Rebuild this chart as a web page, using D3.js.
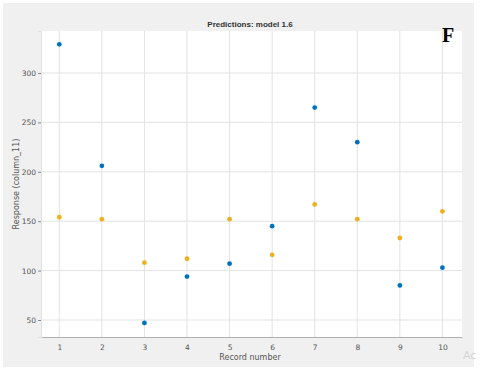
<!DOCTYPE html>
<html>
<head>
<meta charset="utf-8">
<script src="https://cdn.jsdelivr.net/npm/d3@7"></script>
<style>
  body { margin: 0; background: #fff; }
  svg { display: block; }
</style>
</head>
<body>
<svg id="chart" width="480" height="373"></svg>
<script>
// record numbers 1..10
var records = [1, 2, 3, 4, 5, 6, 7, 8, 9, 10]
// true response (blue)
var trueResp = [329, 206, 47, 94, 107, 145, 265, 230, 85, 103]
// predicted response (yellow)
var predResp = [154, 152, 108, 112, 152, 116, 167, 152, 133, 160]
var yTicks = [50, 100, 150, 200, 250, 300]

var svg = d3.select("#chart")

// grey figure panel
svg.append("rect")
    .attr("x", 3).attr("y", 3)
    .attr("width", 471).attr("height", 364)
    .attr("fill", "#f0f0f0")

// plot box (note: "top" is taken by window.top)
var pLeft = 41, pRight = 462, pTop = 31, pBottom = 337

var x = d3.scaleLinear().domain([0.57, 10.46]).range([pLeft, pRight])
var y = d3.scaleLinear().domain([32.8, 342.5]).range([pBottom, pTop])

svg.append("rect")
    .attr("x", pLeft).attr("y", pTop)
    .attr("width", pRight - pLeft).attr("height", pBottom - pTop)
    .attr("fill", "#fff")

// grid
svg.append("g").selectAll("line").data(records).join("line")
    .attr("x1", d => x(d)).attr("x2", d => x(d))
    .attr("y1", pTop).attr("y2", pBottom)
    .attr("stroke", "#e3e3e3").attr("stroke-width", 1)

svg.append("g").selectAll("line").data(yTicks).join("line")
    .attr("x1", pLeft).attr("x2", pRight)
    .attr("y1", d => y(d)).attr("y2", d => y(d))
    .attr("stroke", "#e3e3e3").attr("stroke-width", 1)

// axes
var xAxis = svg.append("g")
    .attr("transform", "translate(0," + pBottom + ")")
    .call(d3.axisBottom(x).tickValues(records).tickSize(0).tickPadding(8))
var yAxis = svg.append("g")
    .attr("transform", "translate(" + pLeft + ",0)")
    .call(d3.axisLeft(y).tickValues(yTicks).tickSize(3).tickPadding(2))

;[xAxis, yAxis].forEach(function(a) {
    a.select(".domain").attr("stroke", "#b0b0b0")
    a.selectAll(".tick line").attr("stroke", "#8a8a8a")
    a.selectAll("text")
        .attr("fill", "#555")
        .style("font-family", "DejaVu Sans, sans-serif")
        .style("font-size", "7.5px")
})
yAxis.select(".domain").attr("stroke", "#e0e0e0")

// points
svg.append("g").selectAll("circle").data(records).join("circle")
    .attr("cx", d => x(d))
    .attr("cy", (d, i) => y(predResp[i]))
    .attr("r", 2.4)
    .attr("fill", "#EDB120")

svg.append("g").selectAll("circle").data(records).join("circle")
    .attr("cx", d => x(d))
    .attr("cy", (d, i) => y(trueResp[i]))
    .attr("r", 2.4)
    .attr("fill", "#0072BD")

// texts
svg.append("text")
    .attr("x", 250).attr("y", 27)
    .attr("text-anchor", "middle")
    .style("font-family", "Liberation Sans, Arial, sans-serif")
    .style("font-size", "8px").style("font-weight", "bold")
    .attr("fill", "#333")
    .text("Predictions: model 1.6")

svg.append("text")
    .attr("x", 448).attr("y", 42)
    .attr("text-anchor", "middle")
    .style("font-family", "Liberation Serif, Times New Roman, serif")
    .style("font-size", "20px").style("font-weight", "bold")
    .attr("fill", "#000")
    .text("F")

svg.append("text")
    .attr("x", 250).attr("y", 360)
    .attr("text-anchor", "middle")
    .style("font-family", "DejaVu Sans, sans-serif")
    .style("font-size", "8px")
    .attr("fill", "#555")
    .text("Record number")

svg.append("text")
    .attr("transform", "translate(19," + ((pTop + pBottom) / 2) + ") rotate(-90)")
    .attr("text-anchor", "middle")
    .style("font-family", "DejaVu Sans, sans-serif")
    .style("font-size", "8px")
    .attr("fill", "#555")
    .text("Response (column_11)")

svg.append("text")
    .attr("x", 463).attr("y", 359)
    .style("font-family", "DejaVu Sans, sans-serif")
    .style("font-size", "11px")
    .attr("fill", "#d5d5d5")
    .text("Ac")
</script>
</body>
</html>
